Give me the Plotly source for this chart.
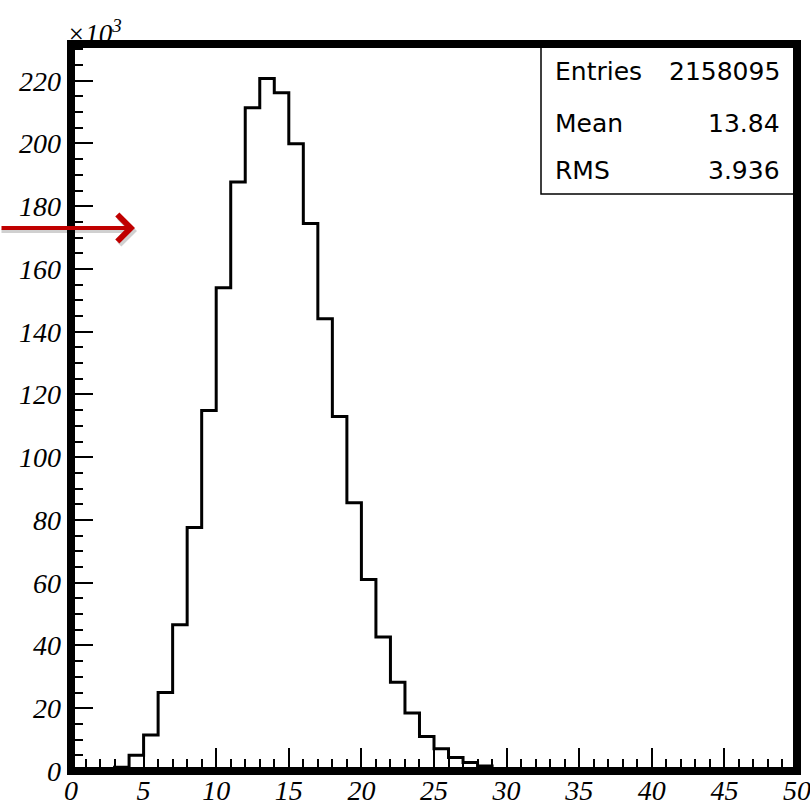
import plotly.graph_objects as go

# ---------------- data ----------------
bin_edges = [0, 1, 2, 3, 4, 5, 6, 7, 8, 9, 10, 11, 12, 13, 14, 15, 16, 17, 18, 19,
             20, 21, 22, 23, 24, 25, 26, 27, 28, 29, 30, 31, 32, 33, 34, 35, 36, 37, 38, 39,
             40, 41, 42, 43, 44, 45, 46, 47, 48, 49, 50]
# bin contents in units of 10^3 entries
counts_k = [0.0, 0.0, 0.2, 1.2, 5.0, 11.5, 25.0, 46.6, 77.6, 114.9,
            154.0, 187.7, 211.4, 220.7, 216.2, 199.9, 174.5, 144.1, 113.0, 85.5,
            61.0, 42.7, 28.3, 18.5, 11.0, 7.1, 4.3, 2.7, 1.6, 0.5,
            0.2, 0.1, 0.0, 0.0, 0.0, 0.0, 0.0, 0.0, 0.0, 0.0,
            0.0, 0.0, 0.0, 0.0, 0.0, 0.0, 0.0, 0.0, 0.0, 0.0]
x_ticks = [0, 5, 10, 15, 20, 25, 30, 35, 40, 45, 50]
y_ticks = [0, 20, 40, 60, 80, 100, 120, 140, 160, 180, 200, 220]
stats_labels = ["Entries", "Mean", "RMS"]
stats_values = ["2158095", "13.84", "3.936"]

# ---------------- geometry (pixels) ----------------
W, H = 810, 804
L, R, T, B = 71, 797, 44, 771


def px_x(p):
    return (p - L) / (R - L)


def px_y(p):
    return (B - p) / (B - T)


step_x = bin_edges
step_y = counts_k + [counts_k[-1]]

fig = go.Figure()
fig.add_trace(go.Scatter(
    x=step_x, y=step_y, mode="lines",
    line=dict(color="black", width=3, shape="hv"),
    hoverinfo="skip", showlegend=False,
))

tick_font = dict(family="Liberation Serif", size=28, color="black", style="italic")

fig.update_xaxes(
    range=[0, 50], tickvals=x_ticks, ticktext=[str(v) for v in x_ticks],
    ticks="inside", ticklen=23, tickwidth=2, tickcolor="black",
    minor=dict(dtick=1, ticks="inside", ticklen=12, tickwidth=2, tickcolor="black", showgrid=False),
    showgrid=False, zeroline=False, showline=False, automargin=False,
    tickfont=tick_font, ticklabelstandoff=0, ticklabeloverflow="allow",
)
fig.update_yaxes(
    range=[0, 231.7], tickvals=y_ticks, ticktext=[str(v) for v in y_ticks],
    ticks="inside", ticklen=22, tickwidth=2, tickcolor="black",
    minor=dict(dtick=5, ticks="inside", ticklen=12, tickwidth=2, tickcolor="black", showgrid=False),
    showgrid=False, zeroline=False, showline=False, automargin=False,
    tickfont=tick_font, ticklabelstandoff=9, ticklabeloverflow="allow",
)

shapes = [
    # stats box
    dict(type="rect", xref="paper", yref="paper",
         x0=px_x(541), x1=1, y0=px_y(194), y1=1,
         line=dict(color="black", width=1.5), fillcolor="white", layer="above"),
    # thick frame
    dict(type="rect", xref="paper", yref="paper", x0=0, x1=1, y0=0, y1=1,
         line=dict(color="black", width=8), fillcolor="rgba(0,0,0,0)", layer="above"),
]

stat_rows_y = [72, 123, 170]
annotations = []
for lab, val, yy in zip(stats_labels, stats_values, stat_rows_y):
    annotations.append(dict(
        xref="paper", yref="paper", x=px_x(553), y=px_y(yy), xanchor="left", yanchor="middle",
        text=lab, showarrow=False, font=dict(family="DejaVu Sans", size=25, color="black")))
    annotations.append(dict(
        xref="paper", yref="paper", x=px_x(782), y=px_y(yy), xanchor="right", yanchor="middle",
        text=val, showarrow=False, font=dict(family="DejaVu Sans", size=25, color="black")))

# x10^3 exponent label
annotations.append(dict(
    xref="paper", yref="paper", x=px_x(65), y=1, xanchor="left", yanchor="bottom", yshift=-7,
    text="×10<sup>3</sup>", showarrow=False,
    font=dict(family="Liberation Serif", size=27, color="black", style="italic")))

# red arrow (with soft shadow)
arrow_tip = (135, 228)
annotations.append(dict(
    xref="paper", yref="paper", x=px_x(arrow_tip[0] + 2), y=px_y(arrow_tip[1] + 3),
    ax=-(arrow_tip[0] + 2), ay=0, text="", showarrow=True,
    arrowcolor="rgba(0,0,0,0.18)", arrowwidth=4, arrowhead=4, arrowsize=1.3))
annotations.append(dict(
    xref="paper", yref="paper", x=px_x(arrow_tip[0]), y=px_y(arrow_tip[1]),
    ax=-arrow_tip[0], ay=0, text="", showarrow=True,
    arrowcolor="#C00000", arrowwidth=4, arrowhead=4, arrowsize=1.3))

fig.update_layout(
    width=W, height=H,
    margin=dict(l=L, r=W - R, t=T, b=H - B, pad=0, autoexpand=False),
    paper_bgcolor="white", plot_bgcolor="white",
    shapes=shapes, annotations=annotations,
    showlegend=False,
)

fig.write_html("out.html")
